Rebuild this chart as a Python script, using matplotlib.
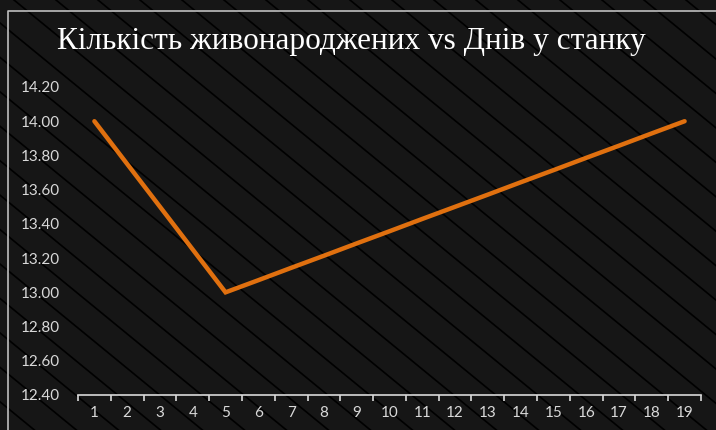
import matplotlib
matplotlib.use("Agg")
import matplotlib.pyplot as plt
import numpy as np

title = "Кількість живонароджених vs Днів у станку"
days = list(range(1, 20))
births = [14.00, 13.75, 13.50, 13.25, 13.00, 13.071, 13.143, 13.214, 13.286, 13.357,
          13.429, 13.500, 13.571, 13.643, 13.714, 13.786, 13.857, 13.929, 14.00]
yticks = [12.40, 12.60, 12.80, 13.00, 13.20, 13.40, 13.60, 13.80, 14.00, 14.20]

W, H = 716, 430
fig = plt.figure(figsize=(W / 100, H / 100), dpi=100)
fig.patch.set_facecolor('#161616')

# background with diagonal stripes (pixel coords)
bg = fig.add_axes([0, 0, 1, 1])
bg.set_xlim(0, W)
bg.set_ylim(H, 0)
bg.axis('off')
bg.set_facecolor('#161616')
slope = 0.82
for x0 in np.arange(-700, W + 40, 42):
    bg.plot([x0, x0 + 1000], [0, 1000 * slope], color='black', lw=1.2, zorder=1)
bg.plot([8, 8, W + 10], [H + 10, 11, 11], color='#bfbfbf', lw=1.2, zorder=2)

ax = fig.add_axes([78 / W, 1 - 395 / H, (701 - 78) / W, (395 - 87) / H])
ax.patch.set_alpha(0)
ax.plot(days, births, color='#E0700F', lw=3.2, solid_capstyle='round', solid_joinstyle='miter')
ax.set_xlim(0.5, 19.5)
ax.set_ylim(12.4, 14.2)
ax.set_xticks(days)
ax.set_xticklabels([str(d) for d in days])
ax.set_xticks(np.arange(0.5, 20, 1), minor=True)
ax.set_yticks(yticks)
ax.set_yticklabels(['%.2f' % v for v in yticks])
for s in ['top', 'right', 'left']:
    ax.spines[s].set_visible(False)
ax.spines['bottom'].set_color('#d9d9d9')
ax.spines['bottom'].set_linewidth(1.2)
ax.tick_params(axis='x', which='major', length=0, pad=8, labelsize=11, labelcolor='#d9d9d9')
ax.tick_params(axis='x', which='minor', length=4, width=1.2, color='#d9d9d9')
ax.tick_params(axis='y', length=0, pad=13, labelsize=11, labelcolor='#d9d9d9')
for lbl in ax.get_xticklabels() + ax.get_yticklabels():
    lbl.set_family('Lato')

fig.text(351 / W, 1 - 42 / H, title, ha='center', va='center', color='white',
         fontsize=22.5, family='Liberation Serif')

fig.savefig('out.png', dpi=100, facecolor=fig.get_facecolor())
